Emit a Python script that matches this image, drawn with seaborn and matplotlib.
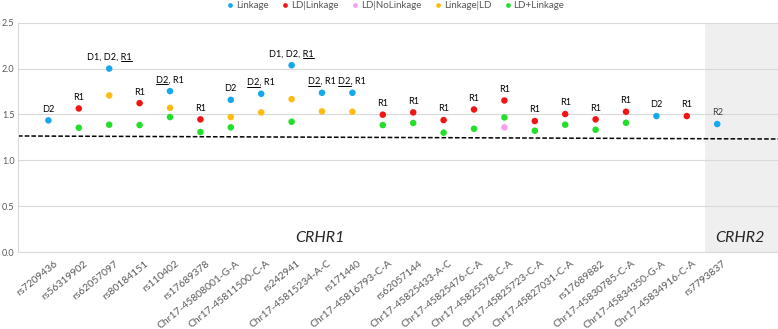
"""SNP association scatter: CRHR1 / CRHR2 markers, one dot per test model."""

import numpy as np
import pandas as pd
import matplotlib.pyplot as plt
import matplotlib.transforms as mtransforms
from matplotlib.lines import Line2D
import seaborn as sns

# ── Data ──────────────────────────────────────────────────────────────────────

NA = np.nan

snps = [
    "rs7209436", "rs56319902", "rs62057097", "rs80184151", "rs110402",
    "rs17689378", "Chr17-45808001-G-A", "Chr17-45811500-C-A", "rs242941",
    "Chr17-45815234-A-C", "rs171440", "Chr17-45816793-C-A", "rs62057144",
    "Chr17-45825433-A-C", "Chr17-45825476-C-A", "Chr17-45825578-C-A",
    "Chr17-45825723-C-A", "Chr17-45827031-C-A", "rs17689882",
    "Chr17-45830785-C-A", "Chr17-45834350-G-A", "Chr17-45834916-C-A",
    "rs7793837",
]

linkage = [1.435, NA, 2.000, NA, 1.754, NA, 1.659, 1.725, 2.036, 1.736, 1.736, NA,
           NA, NA, NA, NA, NA, NA, NA, NA, 1.482, NA, 1.395]
ld_linkage = [NA, 1.565, NA, 1.623, NA, 1.446, NA, NA, NA, NA, NA, 1.497,
              1.522, 1.438, 1.554, 1.652, 1.428, 1.504, 1.446, 1.529, NA, 1.482, NA]
ld_nolinkage = [NA, NA, NA, NA, NA, NA, NA, NA, NA, NA, NA, NA,
                NA, NA, NA, 1.359, NA, NA, NA, NA, NA, NA, NA]
linkage_ld = [NA, NA, 1.707, NA, 1.572, NA, 1.471, 1.522, 1.667, 1.533, 1.529, NA,
              NA, NA, NA, NA, NA, NA, NA, NA, NA, NA, NA]
ld_plus_linkage = [NA, 1.355, 1.388, 1.384, 1.471, 1.308, 1.359, NA, 1.420, NA, NA, 1.384,
                   1.406, 1.301, 1.344, 1.467, 1.322, 1.388, 1.333, 1.409, NA, NA, NA]

# point labels (text, underlined part)
point_labels = ["D2", "R1", "D1, D2, R1", "R1", "D2, R1", "R1", "D2", "D2, R1",
                "D1, D2, R1", "D2, R1", "D2, R1", "R1", "R1", "R1", "R1", "R1",
                "R1", "R1", "R1", "R1", "D2", "R1", "R2"]
underlined = [None, None, "R1", None, "D2", None, None, "D2", "R1", "D2", "D2", None,
              None, None, None, None, None, None, None, None, None, None, None]

threshold = (1.265, 1.232)      # dashed line, left / right end
crhr2_start = 21.6              # shaded CRHR2 block begins

SERIES = {
    "Linkage":      ("#14a8ec", linkage),
    "LD|Linkage":   ("#f01414", ld_linkage),
    "LD|NoLinkage": ("#f4a0ee", ld_nolinkage),
    "Linkage|LD":   ("#ffbb10", linkage_ld),
    "LD+Linkage":   ("#22e02a", ld_plus_linkage),
}

GREY = "#595959"

# ── Figure ────────────────────────────────────────────────────────────────────

sns.set_theme(style="whitegrid")
plt.rcParams["font.family"] = ["Lato", "DejaVu Sans"]

W, H = 778, 329
fig = plt.figure(figsize=(W / 100, H / 100), dpi=100)
ax = fig.add_axes([18 / W, (H - 252) / H, 1 - 18 / W, (252 - 22.7) / H])

rows = []
for name, (color, vals) in SERIES.items():
    for i, v in enumerate(vals):
        if not np.isnan(v):
            rows.append({"pos": i, "value": v, "series": name})
df = pd.DataFrame(rows)
palette = {k: c for k, (c, _) in SERIES.items()}

ax.axvspan(crhr2_start, len(snps) + 1, color="#efefef", zorder=0, lw=0)

sns.scatterplot(data=df, x="pos", y="value", hue="series", palette=palette,
                s=22, linewidth=0, legend=False, ax=ax, zorder=3)

ax.plot([-1, len(snps) + 1], threshold, color="black", lw=1.1,
        ls=(0, (3, 1.4)), zorder=2)

ax.set_xlim(-1, len(snps) + 1)
ax.set_ylim(0, 2.5)
ax.set_yticks(np.arange(0, 2.51, 0.5))
ax.yaxis.set_major_formatter(plt.FuncFormatter(lambda v, _: f"{v:.1f}"))
ax.set_xticks(range(len(snps)))
ax.set_xticklabels(snps, rotation=39, ha="right", rotation_mode="anchor")
ax.tick_params(axis="x", labelsize=7.5, labelcolor=GREY, pad=5, length=0)
ax.tick_params(axis="y", labelsize=6.5, labelcolor=GREY, pad=2.5, length=0)
shift = mtransforms.ScaledTranslation(5 / 100, 0, fig.dpi_scale_trans)
for lab in ax.get_xticklabels():
    lab.set_transform(lab.get_transform() + shift)
ax.set_xlabel("")
ax.set_ylabel("")
ax.grid(axis="x", visible=False)
ax.grid(axis="y", color="#d9d9d9", lw=0.8)
ax.set_axisbelow(True)
for side in ("top", "right"):
    ax.spines[side].set_visible(False)
for side in ("left", "bottom"):
    ax.spines[side].set_color("#d9d9d9")
    ax.spines[side].set_linewidth(0.8)

# gene names
ax.text(8.94, 0.15, "CRHR1", style="italic", fontsize=11.5, ha="center", va="center")
ax.text(22.75, 0.15, "CRHR2", style="italic", fontsize=11.5, ha="center", va="center")

# labels above the topmost dot of each SNP
stacked = np.array([v for _, v in SERIES.values()], dtype=float)
tops = np.nanmax(stacked, axis=0)
texts = []
for i, (lab, top) in enumerate(zip(point_labels, tops)):
    t = ax.annotate(lab, xy=(i, top), xytext=(0, 8), textcoords="offset points",
                    ha="center", va="center", fontsize=6.6,
                    color="#404040" if lab == "R2" else "black", zorder=4)
    texts.append(t)

# legend
handles = [Line2D([], [], marker="o", ls="", color=c, markersize=3.4, markeredgewidth=0)
           for c, _ in SERIES.values()]
fig.legend(handles, list(SERIES), loc="upper center", bbox_to_anchor=(0.507, 1.012),
           ncol=5, frameon=False, fontsize=7, handletextpad=0.0, columnspacing=1.1,
           handlelength=1.2, labelcolor=GREY, borderaxespad=0.1)

# underline parts of labels (matplotlib has no underline style)
fig.canvas.draw()
renderer = fig.canvas.get_renderer()
for t, part in zip(texts, underlined):
    if part is None:
        continue
    bb = t.get_window_extent(renderer)
    w, _, _ = renderer.get_text_width_height_descent(part, t.get_fontproperties(), ismath=False)
    if t.get_text().startswith(part):
        x0, x1 = bb.x0, bb.x0 + w
    else:
        x0, x1 = bb.x1 - w, bb.x1
    y = bb.y0 + 0.5
    fig.add_artist(Line2D([x0 / W, x1 / W], [y / H, y / H], transform=fig.transFigure,
                          color="black", lw=0.7))

fig.savefig("out.png", dpi=100)
